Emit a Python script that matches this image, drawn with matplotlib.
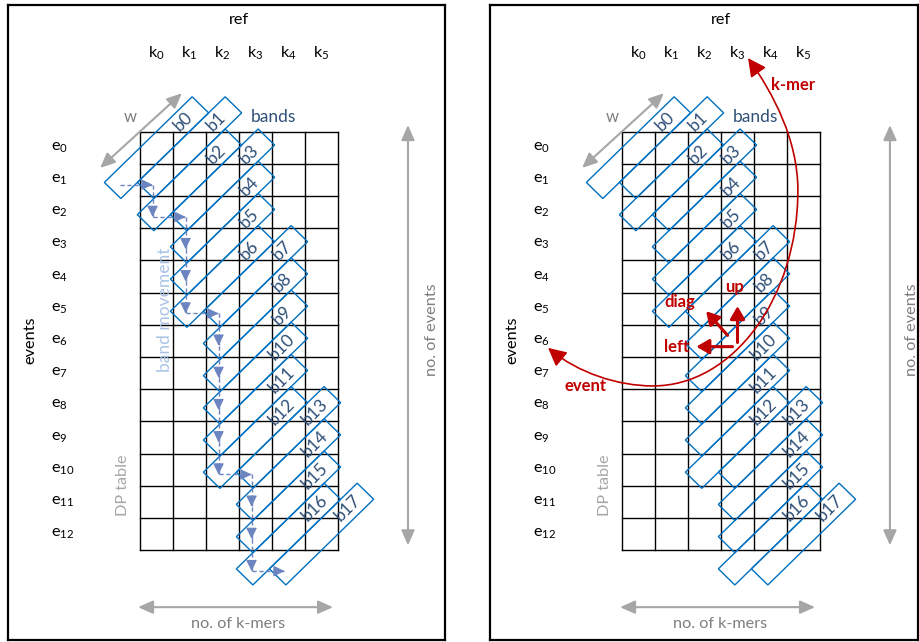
import numpy as np
import matplotlib
matplotlib.use('Agg')
import matplotlib.pyplot as plt
from matplotlib.patches import Polygon, FancyArrowPatch
from matplotlib.path import Path

plt.rcParams['font.family'] = ['Lato', 'DejaVu Sans']
plt.rcParams['mathtext.fontset'] = 'custom'
plt.rcParams['mathtext.rm'] = 'Lato'
plt.rcParams['mathtext.default'] = 'regular'

# DP table size and band walk
n_events = 13
n_kmers = 6
event_labels = ['e$_{%d}$' % i for i in range(n_events)]
kmer_labels = ['k$_{%d}$' % j for j in range(n_kmers)]
band_moves = ['R', 'D', 'R', 'D', 'D', 'D', 'R', 'D', 'D', 'D', 'D', 'D', 'R', 'D', 'D', 'D', 'R']
band_labels = ['b%d' % i for i in range(len(band_moves) + 1)]

# red step arrows (right panel): name, start, tip, label position
step_names = ['up', 'diag', 'left']
step_start = [(3.5, 6.55), (3.2, 6.33), (3.35, 6.68)]
step_tip = [(3.5, 5.42), (2.55, 5.58), (2.25, 6.68)]
step_label_pos = [(3.42, 4.84), (1.76, 5.3), (1.64, 6.69)]

GRID = 'black'
BAND = '#0070c0'
BAND_TXT = '#2f5078'
GRAY = '#a6a6a6'
MOVE = '#6c84bf'
RED = '#c00000'
FS = 11.7

# band centres from the walk
centers = [(0.5, 0.5)]
for m in band_moves:
    cx, cy = centers[-1]
    centers.append((cx + 1, cy) if m == 'R' else (cx, cy + 1))
centers = np.array(centers)

half_len, half_wid = 1.33, 0.25
along = np.array([1.0, -1.0])
across = np.array([1.0, 1.0])


def gray_arrow(ax, a, b):
    ax.add_patch(FancyArrowPatch(a, b, arrowstyle='<|-|>,head_length=0.45,head_width=0.2',
                                 mutation_scale=20, color=GRAY, lw=1.5,
                                 shrinkA=0, shrinkB=0, zorder=3))


def draw_panel(ax, right):
    ax.set_xlim(-4.0, 9.242 if not right else 8.97)
    ax.set_ylim(15.79, -3.93)
    ax.set_xticks([])
    ax.set_yticks([])
    for s in ax.spines.values():
        s.set_linewidth(1.6)
        s.set_color('black')

    # grid
    for j in range(n_kmers + 1):
        ax.plot([j, j], [0, n_events], color=GRID, lw=1.0, zorder=1)
    for i in range(n_events + 1):
        ax.plot([0, n_kmers], [i, i], color=GRID, lw=1.0, zorder=1)

    ax.text(3.0, -3.46, 'ref', ha='center', va='center', fontsize=FS)
    for j, lab in enumerate(kmer_labels):
        ax.text(j + 0.5, -2.44, lab, ha='center', va='center', fontsize=FS)
    for i, lab in enumerate(event_labels):
        ax.text(-2.7, i + 0.5, lab, ha='left', va='center', fontsize=FS)
    ax.text(-3.33, 6.48, 'events', rotation=90, ha='center', va='center', fontsize=FS)

    # bands
    for (cx, cy), lab in zip(centers, band_labels):
        c = np.array([cx, cy])
        pts = [c + half_len * along - half_wid * across,
               c + half_len * along + half_wid * across,
               c - half_len * along + half_wid * across,
               c - half_len * along - half_wid * across]
        ax.add_patch(Polygon(pts, closed=True, fill=False, edgecolor=BAND, lw=1.0, zorder=2))
        lp = c + 0.8 * along
        ax.text(lp[0], lp[1], lab, rotation=45, ha='center', va='center',
                fontsize=12.5, color=BAND_TXT, zorder=4)

    ax.text(3.36, -0.45, 'bands', ha='left', va='center', fontsize=12.5, color=BAND_TXT)
    ax.text(-0.3, -0.45, 'w', ha='center', va='center', fontsize=12, color='#7f7f7f')
    gray_arrow(ax, (-1.21, 1.13), (1.27, -1.19))
    gray_arrow(ax, (8.12, -0.2), (8.12, 12.85))
    ax.text(8.78 if right else 8.85, 6.16, 'no. of events', rotation=90, ha='center',
            va='center', fontsize=FS, color='#7f7f7f')
    gray_arrow(ax, (-0.06, 14.77), (5.85, 14.77))
    ax.text(2.97, 15.3, 'no. of k-mers', ha='center', va='center', fontsize=FS, color='#7f7f7f')
    ax.text(-0.52, 10.98, 'DP table', rotation=90, ha='center', va='center',
            fontsize=FS, color=GRAY)


fig = plt.figure(figsize=(9.19, 6.42), dpi=100)
ax_l = fig.add_axes([8 / 919, 2 / 642, 437 / 919, 635 / 642])
ax_r = fig.add_axes([490 / 919, 2 / 642, 428 / 919, 635 / 642])
draw_panel(ax_l, False)
draw_panel(ax_r, True)

# left: band movement path
path_pts = centers + np.array([-1.12, 1.15])
for p0, p1 in zip(path_pts[:-1], path_pts[1:]):
    ax_l.plot([p0[0], p1[0]], [p0[1], p1[1]], color=MOVE, lw=1.0, ls=(0, (3, 2)), zorder=3)
    d = (p1 - p0) / np.linalg.norm(p1 - p0)
    ax_l.annotate('', xy=tuple(p1), xytext=tuple(p1 - 0.3 * d),
                  arrowprops=dict(arrowstyle='-|>,head_length=0.45,head_width=0.22',
                                  mutation_scale=15, color=MOVE, lw=0.8,
                                  shrinkA=0, shrinkB=0), zorder=3)
ax_l.text(0.76, 5.54, 'band movement', rotation=90, ha='center', va='center',
          fontsize=12.5, color='#a9c3e6', zorder=2)

# right: event / k-mer curve
curve_verts = [(-2.24, 6.72), (-1.33, 7.50), (-0.12, 7.90), (0.94, 7.90),
               (3.36, 7.90), (5.33, 5.17), (5.33, 1.82),
               (5.33, 0.26), (4.58, -1.19), (3.82, -2.28)]
curve_codes = [Path.MOVETO] + [Path.CURVE4] * 9
ax_r.add_patch(FancyArrowPatch(path=Path(curve_verts, curve_codes),
                               arrowstyle='<|-|>,head_length=0.55,head_width=0.28',
                               mutation_scale=20, color=RED, lw=1.2, zorder=5))
ax_r.text(5.18, -1.44, 'k-mer', ha='center', va='center', fontsize=12,
          color=RED, fontweight='bold')
ax_r.text(-1.12, 7.9, 'event', ha='center', va='center', fontsize=12,
          color=RED, fontweight='bold')

for name, s, t, lp in zip(step_names, step_start, step_tip, step_label_pos):
    ax_r.add_patch(FancyArrowPatch(s, t, arrowstyle='-|>,head_length=0.38,head_width=0.22',
                                   mutation_scale=20, color=RED, lw=2.2,
                                   shrinkA=0, shrinkB=0, zorder=6))
    ax_r.text(lp[0], lp[1], name, ha='center', va='center', fontsize=12,
              color=RED, fontweight='bold', zorder=6)

fig.savefig('out.png', dpi=100)
